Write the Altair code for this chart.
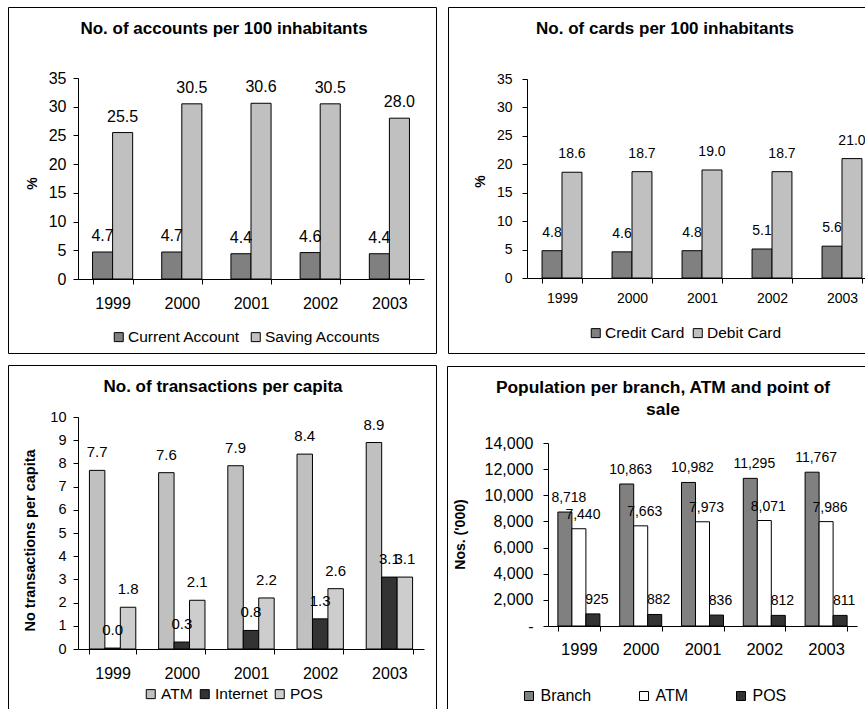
import altair as alt
import pandas as pd

# ---- data -------------------------------------------------------------
years = ["1999", "2000", "2001", "2002", "2003"]

account_series = ["Current Account", "Saving Accounts"]
current_account = [4.7, 4.7, 4.4, 4.6, 4.4]
saving_accounts = [25.5, 30.5, 30.6, 30.5, 28.0]

card_series = ["Credit Card", "Debit Card"]
credit_card = [4.8, 4.6, 4.8, 5.1, 5.6]
debit_card = [18.6, 18.7, 19.0, 18.7, 21.0]

transaction_series = ["ATM", "Internet", "POS"]
atm_transactions = [7.7, 7.6, 7.9, 8.4, 8.9]
internet_transactions = [0.04, 0.3, 0.8, 1.3, 3.1]
pos_transactions = [1.8, 2.1, 2.2, 2.6, 3.1]

population_series = ["Branch", "ATM", "POS"]
population_per_branch = [8718, 10863, 10982, 11295, 11767]
population_per_atm = [7440, 7663, 7973, 8071, 7986]
population_per_pos = [925, 882, 836, 812, 811]

FONT = "Liberation Sans"
PAGE_W, PAGE_H = 865, 709
ONE_ROW = pd.DataFrame({"k": [0]})


def long_table(names, columns):
    rows = []
    for name, values in zip(names, columns):
        for year, value in zip(years, values):
            rows.append({"year": year, "series": name, "value": value})
    return pd.DataFrame(rows)


def panel(table, names, colors, *, x_range, y_range, y_values, pad_inner,
          label_format, label_size, label_gap, label_dx, tick_size,
          year_size, year_offset, tick_pad, y_title, y_title_x, y_title_y,
          y_title_size, title, title_x, title_y, title_size,
          legend_x, legend_y, legend_size, legend_pad, border,
          legend_label_offset=1.5, y_label_expr=None):
    """One boxed bar chart placed inside the shared page-sized view."""
    left, bottom = x_range[0], y_range[0]
    y_axis_kwargs = dict(
        orient="left", offset=-left,
        values=y_values, grid=False, title=y_title, titleX=y_title_x,
        titleY=y_title_y, titleAngle=-90, titleAlign="center",
        titleBaseline="middle", titleFontWeight="bold", titleFont=FONT,
        titleFontSize=y_title_size, titleColor="black",
        labelFontSize=tick_size, labelPadding=tick_pad, labelColor="black",
        tickSize=5, tickColor="black", domainColor="black",
    )
    if y_label_expr is not None:
        y_axis_kwargs["labelExpr"] = y_label_expr
    x_enc = alt.X(
        "year:N", sort=years,
        scale=alt.Scale(range=list(x_range), paddingInner=pad_inner,
                        paddingOuter=pad_inner / 2),
        axis=alt.Axis(orient="bottom", offset=-(PAGE_H - bottom),
                      title=None, labelAngle=0, tickBand="extent",
                      labelFontSize=year_size, labelBaseline="middle",
                      labelPadding=year_offset - 5, labelColor="black",
                      tickSize=5, tickColor="black", domainColor="black"),
    )
    y_enc = alt.Y("value:Q",
                  scale=alt.Scale(domain=[y_values[0], y_values[-1]],
                                  range=list(y_range), nice=False),
                  axis=alt.Axis(**y_axis_kwargs))
    off_enc = alt.XOffset("series:N", sort=names)

    bars = alt.Chart(table).mark_bar(stroke="black", strokeWidth=1).encode(
        x=x_enc, xOffset=off_enc, y=y_enc,
        color=alt.Color(
            "series:N", sort=names,
            scale=alt.Scale(domain=names, range=colors),
            legend=alt.Legend(
                title=None, orient="none", legendX=legend_x, legendY=legend_y,
                direction="horizontal", symbolType="square", symbolSize=81,
                symbolStrokeColor="black", symbolStrokeWidth=1,
                symbolOpacity=1, labelFontSize=legend_size,
                labelColor="black", labelOffset=legend_label_offset,
                columnPadding=legend_pad, padding=0,
            ),
        ),
    )
    labels = alt.Chart(table).mark_text(
        fontSize=label_size, baseline="middle", align="center",
        dy=-label_gap, dx=label_dx, color="black",
    ).encode(
        x=x_enc, xOffset=off_enc, y=y_enc,
        text=alt.Text("value:Q", format=label_format),
    )
    x1, x2, y1, y2 = border
    frame = alt.Chart(ONE_ROW).mark_rect(
        fillOpacity=0, stroke="black", strokeWidth=1
    ).encode(x=alt.value(x1), x2=alt.value(x2), y=alt.value(y1), y2=alt.value(y2))
    heading = alt.Chart(ONE_ROW).mark_text(
        fontWeight="bold", fontSize=title_size, align="center",
        baseline="middle", lineHeight=22, color="black",
    ).encode(x=alt.value(title_x), y=alt.value(title_y), text=alt.value(title))
    return alt.layer(frame, heading, bars, labels)


accounts = panel(
    long_table(account_series, [current_account, saving_accounts]),
    account_series, ["#808080", "#C0C0C0"],
    x_range=(78, 424), y_range=(279, 78),
    y_values=list(range(0, 36, 5)), pad_inner=0.42,
    label_format=".1f", label_size=16, label_gap=16, label_dx=0,
    tick_size=16, year_size=16, year_offset=24, tick_pad=7,
    y_title="%", y_title_x=-46, y_title_y=183, y_title_size=14,
    title="No. of accounts per 100 inhabitants", title_x=224, title_y=29,
    title_size=17, legend_x=111, legend_y=329, legend_size=15.5, legend_pad=8,
    border=(8.5, 436.5, 7.5, 353.5),
)

cards = panel(
    long_table(card_series, [credit_card, debit_card]),
    card_series, ["#808080", "#C0C0C0"],
    x_range=(527, 877), y_range=(278, 79),
    y_values=list(range(0, 36, 5)), pad_inner=0.43,
    label_format=".1f", label_size=14, label_gap=18, label_dx=0,
    tick_size=14, year_size=14, year_offset=20, tick_pad=10,
    y_title="%", y_title_x=-47, y_title_y=181, y_title_size=14,
    title="No. of cards per 100 inhabitants", title_x=665, title_y=29,
    title_size=17, legend_x=588, legend_y=325, legend_size=15.5, legend_pad=5,
    border=(448.5, 890, 7.5, 353.5),
)

transactions = panel(
    long_table(transaction_series,
               [atm_transactions, internet_transactions, pos_transactions]),
    transaction_series, ["#C0C0C0", "#333333", "#CDCDCD"],
    x_range=(78, 424), y_range=(649, 417),
    y_values=list(range(0, 11)), pad_inner=0.33,
    label_format=".1f", label_size=15, label_gap=18, label_dx=0,
    tick_size=14.5, year_size=16, year_offset=24, tick_pad=7,
    y_title="No transactions per capita", y_title_x=-48, y_title_y=540,
    y_title_size=14.5,
    title="No. of transactions per capita", title_x=223, title_y=387,
    title_size=17, legend_x=143, legend_y=686, legend_size=15.5, legend_pad=4,
    legend_label_offset=2.5,
    border=(8.5, 436.5, 365.5, 730),
)

population = panel(
    long_table(population_series,
               [population_per_branch, population_per_atm, population_per_pos]),
    population_series, ["#808080", "#FFFFFF", "#333333"],
    x_range=(548, 857), y_range=(626, 443),
    y_values=list(range(0, 14001, 2000)), pad_inner=0.32,
    label_format=",d", label_size=14, label_gap=14, label_dx=4,
    tick_size=16, year_size=16.5, year_offset=23, tick_pad=10,
    y_title="Nos. ('000)", y_title_x=-88, y_title_y=534, y_title_size=14,
    title=["Population per branch, ATM and point of", "sale"],
    title_x=663, title_y=388, title_size=17.4,
    legend_x=521, legend_y=688, legend_size=16, legend_pad=44,
    legend_label_offset=3.5,
    border=(447.5, 890, 366.5, 730),
    y_label_expr="datum.value == 0 ? '-\u00a0\u00a0\u00a0\u00a0' : format(datum.value, ',')",
)

chart = alt.layer(accounts, cards, transactions, population) \
    .resolve_scale(x="independent", y="independent",
                   color="independent", xOffset="independent") \
    .resolve_axis(x="independent", y="independent") \
    .resolve_legend(color="independent") \
    .properties(width=PAGE_W, height=PAGE_H, padding=0,
                autosize=alt.AutoSizeParams(type="none"),
                background="white") \
    .configure(font=FONT) \
    .configure_view(stroke=None) \
    .configure_axis(grid=False)

chart.save("out.html", embed_options={"renderer": "svg", "actions": False})
